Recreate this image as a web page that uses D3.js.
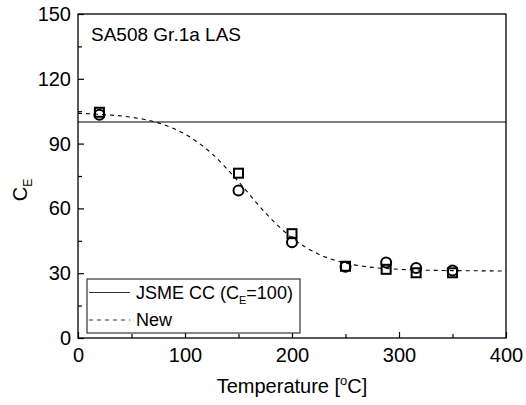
<!DOCTYPE html>
<html>
<head>
<meta charset="utf-8">
<script src="https://cdn.jsdelivr.net/npm/d3@7"></script>
<style>
  body { margin: 0; background: #fff; }
  svg { font-family: Arial, "Liberation Sans", sans-serif; }
</style>
</head>
<body>
<svg id="chart" width="526" height="405"></svg>
<script>
// measured points (temperature, C_E)
var temps = [20, 150, 200, 250, 288, 316, 350];
var squareVals = [104.5, 76.3, 48.3, 33.2, 31.8, 30.2, 30.2];
var circleVals = [103.3, 68.3, 44.3, 33.0, 35.0, 32.4, 31.2];

// "New" curve
var curveT = [0, 25, 50, 75, 100, 125, 150, 175, 200, 225, 250, 275, 300, 325, 350, 375, 400];
var curveC = [104.0, 103.4, 102.2, 99.6, 94.4, 85.4, 72.4, 58.0, 46.3, 38.8, 34.7, 32.7, 31.8, 31.4, 31.2, 31.1, 31.0];

// JSME CC line
var jsmeT = [0, 400];
var jsmeC = [100, 100];

var xTicks = [0, 100, 200, 300, 400];
var xMinor = [50, 150, 250, 350];
var yTicks = [0, 30, 60, 90, 120, 150];
var yMinor = [15, 45, 75, 105, 135];

// plot box (note: "top" is reserved on window, so use pl/pr/pt/pb)
var pl = 78, pr = 506, pt = 14, pb = 338;

var svg = d3.select("#chart");
var x = d3.scaleLinear().domain([0, 400]).range([pl, pr]);
var y = d3.scaleLinear().domain([0, 150]).range([pb, pt]);

// bottom axis, ticks pointing in
var xAxis = svg.append("g")
  .attr("transform", "translate(0," + pb + ")")
  .call(d3.axisBottom(x).tickValues(xTicks).tickSizeInner(-6).tickSizeOuter(0).tickPadding(10));
xAxis.select(".domain").remove();
xAxis.selectAll("text").attr("font-size", 20).attr("fill", "#000").attr("font-family", "Arial, 'Liberation Sans', sans-serif");
xAxis.selectAll("line").attr("stroke-width", 1.2);

var xAxisMinor = svg.append("g")
  .attr("transform", "translate(0," + pb + ")")
  .call(d3.axisBottom(x).tickValues(xMinor).tickSizeInner(-4).tickSizeOuter(0).tickFormat(""));
xAxisMinor.select(".domain").remove();
xAxisMinor.selectAll("line").attr("stroke-width", 1.2);

// left axis
var yAxis = svg.append("g")
  .attr("transform", "translate(" + pl + ",0)")
  .call(d3.axisLeft(y).tickValues(yTicks).tickSizeInner(-6).tickSizeOuter(0).tickPadding(7));
yAxis.select(".domain").remove();
yAxis.selectAll("text").attr("font-size", 20).attr("fill", "#000").attr("font-family", "Arial, 'Liberation Sans', sans-serif");
yAxis.selectAll("line").attr("stroke-width", 1.2);

var yAxisMinor = svg.append("g")
  .attr("transform", "translate(" + pl + ",0)")
  .call(d3.axisLeft(y).tickValues(yMinor).tickSizeInner(-4).tickSizeOuter(0).tickFormat(""));
yAxisMinor.select(".domain").remove();
yAxisMinor.selectAll("line").attr("stroke-width", 1.2);

// frame
svg.append("rect")
  .attr("x", pl).attr("y", pt)
  .attr("width", pr - pl).attr("height", pb - pt)
  .attr("fill", "none").attr("stroke", "#000").attr("stroke-width", 1.3);

// lines
var line = d3.line()
  .x(function(d) { return x(d[0]); })
  .y(function(d) { return y(d[1]); });

svg.append("path")
  .datum(d3.zip(jsmeT, jsmeC))
  .attr("d", line)
  .attr("fill", "none").attr("stroke", "#000").attr("stroke-width", 1.2);

svg.append("path")
  .datum(d3.zip(curveT, curveC))
  .attr("d", line.curve(d3.curveMonotoneX))
  .attr("fill", "none").attr("stroke", "#000").attr("stroke-width", 1.1)
  .attr("stroke-dasharray", "4,4");

// markers
var sq = 9;
svg.selectAll("rect.sq")
  .data(d3.zip(temps, squareVals))
  .enter().append("rect")
    .attr("class", "sq")
    .attr("x", function(d) { return x(d[0]) - sq / 2; })
    .attr("y", function(d) { return y(d[1]) - sq / 2; })
    .attr("width", sq).attr("height", sq)
    .attr("fill", "none").attr("stroke", "#000").attr("stroke-width", 2);

svg.selectAll("circle.ci")
  .data(d3.zip(temps, circleVals))
  .enter().append("circle")
    .attr("class", "ci")
    .attr("cx", function(d) { return x(d[0]); })
    .attr("cy", function(d) { return y(d[1]); })
    .attr("r", 5)
    .attr("fill", "none").attr("stroke", "#000").attr("stroke-width", 2);

// title inside plot
svg.append("text")
  .attr("x", 91).attr("y", 41)
  .attr("font-size", 19)
  .text("SA508 Gr.1a LAS");

// axis titles
var xt = svg.append("text")
  .attr("x", 292).attr("y", 393)
  .attr("text-anchor", "middle")
  .attr("font-size", 20);
xt.append("tspan").text("Temperature [");
xt.append("tspan").attr("font-size", 13).attr("dy", -8).text("o");
xt.append("tspan").attr("dy", 8).text("C]");

var yt = svg.append("text")
  .attr("transform", "translate(27,190) rotate(-90)")
  .attr("text-anchor", "middle")
  .attr("font-size", 20);
yt.append("tspan").text("C");
yt.append("tspan").attr("font-size", 12).attr("dy", 5).text("E");

// legend
var lg = svg.append("g");
lg.append("rect")
  .attr("x", 87).attr("y", 279)
  .attr("width", 213).attr("height", 54)
  .attr("fill", "#fff").attr("stroke", "#444").attr("stroke-width", 1.3);

lg.append("line")
  .attr("x1", 89).attr("x2", 130).attr("y1", 292.5).attr("y2", 292.5)
  .attr("stroke", "#333").attr("stroke-width", 1.2);
var l1 = lg.append("text").attr("x", 136).attr("y", 299).attr("font-size", 18);
l1.append("tspan").text("JSME CC (C");
l1.append("tspan").attr("font-size", 11).attr("dy", 5).text("E");
l1.append("tspan").attr("dy", -5).text("=100)");

lg.append("line")
  .attr("x1", 89).attr("x2", 130).attr("y1", 320).attr("y2", 320)
  .attr("stroke", "#333").attr("stroke-width", 1.2)
  .attr("stroke-dasharray", "4,4");
lg.append("text").attr("x", 136).attr("y", 326).attr("font-size", 18).text("New");
</script>
</body>
</html>
